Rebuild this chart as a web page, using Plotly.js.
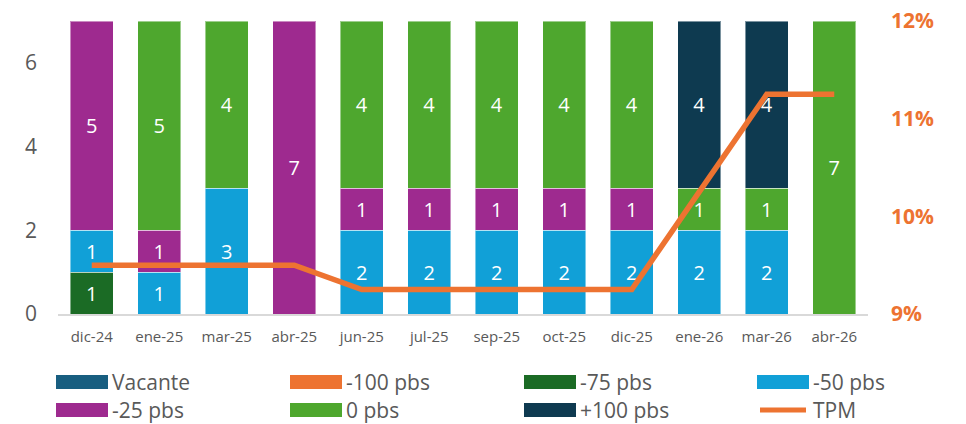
<!DOCTYPE html>
<html>
<head>
<meta charset="utf-8">
<script src="https://cdn.plot.ly/plotly-3.0.1.min.js"></script>
<style>html,body{margin:0;padding:0;background:#fff;}#chart{width:966px;height:424px;}</style>
</head>
<body>
<div id="chart"></div>
<script>
// Data
const categories = ['dic-24','ene-25','mar-25','abr-25','jun-25','jul-25','sep-25','oct-25','dic-25','ene-26','mar-26','abr-26'];
const vacante  = [null,null,null,null,null,null,null,null,null,null,null,null];
const m100     = [null,null,null,null,null,null,null,null,null,null,null,null];
const m75      = [1,null,null,null,null,null,null,null,null,null,null,null];
const m50      = [1,1,3,null,2,2,2,2,2,2,2,null];
const m25      = [5,1,null,7,1,1,1,1,1,null,null,null];
const cero     = [null,5,4,null,4,4,4,4,4,1,1,7];
const p100     = [null,null,null,null,null,null,null,null,null,4,4,null];
const tpm      = [0.095,0.095,0.095,0.095,0.0925,0.0925,0.0925,0.0925,0.0925,0.1025,0.1125,0.1125];
const seriesNames  = ['Vacante','-100 pbs','-75 pbs','-50 pbs','-25 pbs','0 pbs','+100 pbs'];
const seriesValues = [vacante, m100, m75, m50, m25, cero, p100];
const seriesColors = ['#185e80','#ed7331','#1b6b25','#11a0d7','#9e2a8f','#4ea72e','#0e3a50'];
const tpmName = 'TPM';
const tpmColor = '#ed7331';
const leftTicks = [0,2,4,6];
const rightTicks = [0.09,0.10,0.11,0.12];

const FONT = 'Open Sans, Noto Sans, sans-serif';
const GRAY = '#595959';

const traces = seriesNames.map((n,i)=>({
  type:'bar', name:n, x:categories, y:seriesValues[i],
  marker:{color:seriesColors[i], line:{color:'rgba(255,255,255,0.45)', width:1}},
  texttemplate:'%{y}', textposition:'inside', insidetextanchor:'middle', textangle:0,
  constraintext:'none',
  insidetextfont:{family:FONT, size:20, color:'#ffffff'},
  hoverinfo:'name+y', showlegend:false
}));
traces.push({
  type:'scatter', mode:'lines', name:tpmName, x:categories, y:tpm, yaxis:'y2',
  line:{color:tpmColor, width:5.5}, showlegend:false
});

// Manual legend (4 columns x 2 rows)
const legendNames = seriesNames.concat([tpmName]);
const legendColors = seriesColors.concat([tpmColor]);
const colX = [56, 290, 524, 757];
const rowY = [382, 410];
const shapes = [];
const annotations = [];
const W = 966, H = 424, ML = 58, MR = 98, MT = 21, MB = 110;
const px = v => (v-ML)/(W-ML-MR);
const py = v => (H-MB-v)/(H-MT-MB);
legendNames.forEach((n,i)=>{
  const c = i % 4, r = Math.floor(i/4);
  const x0 = colX[c], yc = rowY[r];
  if (n === tpmName) {
    shapes.push({type:'line', xref:'paper', yref:'paper',
      x0:px(x0+3), x1:px(x0+49), y0:py(yc), y1:py(yc),
      line:{color:legendColors[i], width:5}});
  } else {
    shapes.push({type:'rect', xref:'paper', yref:'paper',
      x0:px(x0), x1:px(x0+52), y0:py(yc+7), y1:py(yc-7),
      fillcolor:legendColors[i], line:{width:0}});
  }
  annotations.push({xref:'paper', yref:'paper', x:px(x0+54), y:py(yc),
    xanchor:'left', yanchor:'middle', showarrow:false, text:n,
    font:{family:FONT, size:21, color:GRAY}});
});

const layout = {
  width:966, height:424,
  margin:{l:ML, r:MR, t:MT, b:MB},
  paper_bgcolor:'#ffffff', plot_bgcolor:'#ffffff',
  barmode:'stack', bargap:0.36,
  showlegend:false,
  font:{family:FONT, color:GRAY},
  xaxis:{type:'category', tickfont:{family:FONT, size:15, color:GRAY}, ticklabelstandoff:8,
    showline:true, linecolor:'#d9d9d9', linewidth:2, ticks:'', showgrid:false, zeroline:false},
  yaxis:{range:[0,7], tickvals:leftTicks, tickfont:{family:FONT, size:21, color:GRAY},
    showgrid:false, zeroline:false, showline:false, ticks:'', ticklabelstandoff:20},
  yaxis2:{overlaying:'y', side:'right', range:[0.09,0.12], tickvals:rightTicks, tickformat:'.0%',
    tickfont:{family:FONT, size:21, color:'#ed7331', weight:'bold'},
    showgrid:false, zeroline:false, showline:false, ticks:'', ticklabelstandoff:22},
  shapes:shapes, annotations:annotations
};

Plotly.newPlot('chart', traces, layout, {displayModeBar:false, staticPlot:true});
</script>
</body>
</html>
